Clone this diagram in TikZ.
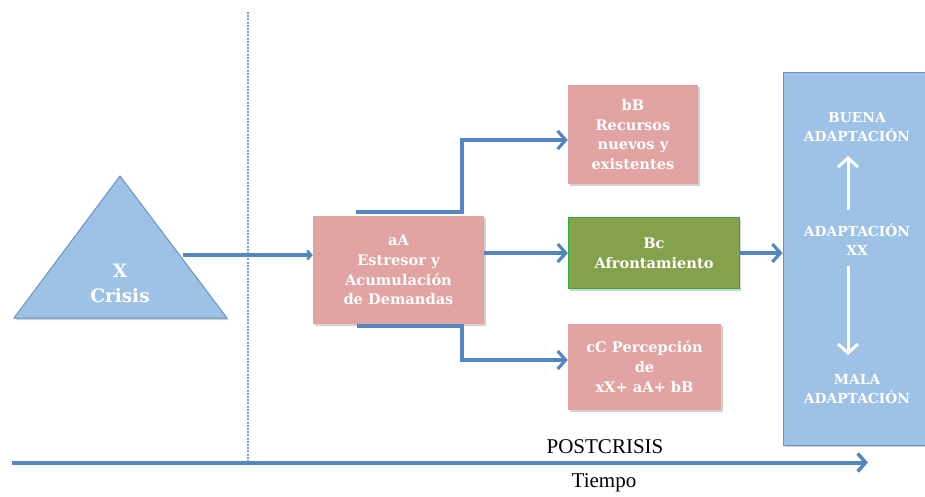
\documentclass[tikz,border=0pt]{standalone}
\usepackage{fontspec}
\setmainfont{DejaVu Serif}
\newfontfamily\axisfont{Liberation Serif}
\usetikzlibrary{arrows.meta,shadows}

\definecolor{linkblue}{RGB}{84,134,192}
\definecolor{pinkfill}{RGB}{225,164,163}
\definecolor{bluefill}{RGB}{157,194,230}
\definecolor{blueedge}{RGB}{104,146,196}
\definecolor{greenfill}{RGB}{132,162,76}
\definecolor{greenedge}{RGB}{48,172,58}
\definecolor{guide}{RGB}{120,158,210}

\tikzset{
  box/.style={rectangle, inner sep=2pt, align=center, text=white,
    font=\bfseries\fontsize{14.6}{19.8}\selectfont,
    drop shadow={shadow xshift=1.5pt, shadow yshift=-2pt, opacity=0.35}},
  pinkbox/.style={box, fill=pinkfill},
  greenbox/.style={box, fill=greenfill, draw=greenedge, line width=1.2pt},
  conn/.style={draw=linkblue, line width=3.4pt,
    -{Straight Barb[length=8pt,width=18pt,line width=3.2pt]}},
  thinconn/.style={draw=linkblue, line width=3.2pt,
    -{Straight Barb[length=4pt,width=9pt,line width=2.4pt]}},
  whitearrow/.style={draw=white, line width=3pt,
    -{Straight Barb[length=9pt,width=20pt,line width=3pt]}},
  adapttext/.style={align=center, text=white,
    font=\bfseries\fontsize{13.8}{19}\selectfont},
  axistext/.style={font=\axisfont\fontsize{21}{24}\selectfont, text=black}
}

\begin{document}
\begin{tikzpicture}[x=1pt, y=-1pt]
  \useasboundingbox (0,0) rectangle (925,496);
  \fill[white] (0,0) rectangle (925,496);

  % time axis and crisis divider
  \coordinate (tStart) at (12,462.5);
  \coordinate (tEnd) at (868,462.5);
  \coordinate (divTop) at (248,12);
  \coordinate (divBot) at (248,462);
  \draw[guide, line width=1.8pt, dash pattern=on 2pt off 1.2pt] (divTop) -- (divBot);
  \draw[draw=linkblue, line width=4pt,
    -{Straight Barb[length=8pt,width=18pt,line width=3.5pt]}] (tStart) -- (tEnd);
  \node[axistext] (post) at (605,447) {POSTCRISIS};
  \node[axistext] (tiempo) at (604,483) {Tiempo};

  % crisis triangle
  \coordinate (triTop) at (120,176);
  \coordinate (triL) at (14,318);
  \coordinate (triR) at (227,318);
  \fill[black, opacity=0.18] ([shift={(1.5,2)}]triTop) -- ([shift={(1.5,2)}]triL) -- ([shift={(1.5,2)}]triR) -- cycle;
  \filldraw[fill=bluefill, draw=blueedge, line width=1pt] (triTop) -- (triL) -- (triR) -- cycle;
  \node[align=center, text=white, font=\bfseries\fontsize{18.5}{25}\selectfont] (crisis) at (120,283) {X\\Crisis};
  \coordinate (triOut) at (183,255);

  % boxes
  \node[pinkbox, minimum width=171pt, minimum height=108pt] (aA) at (398.5,270)
    {aA\\Estresor y\\Acumulación\\de Demandas};
  \node[pinkbox, minimum width=130pt, minimum height=99pt] (bB) at (633,134.5)
    {bB\\Recursos\\nuevos y\\existentes};
  \node[greenbox, minimum width=171pt, minimum height=71pt] (Bc) at (654,253)
    {Bc\\Afrontamiento};
  \node[pinkbox, minimum width=153pt, minimum height=86pt] (cC) at (644.5,367)
    {cC Percepción\\de\\xX+ aA+ bB};

  % adaptation panel
  \node[rectangle, fill=bluefill, draw=blueedge, line width=1pt,
    minimum width=160pt, minimum height=373pt,
    drop shadow={shadow xshift=1.5pt, shadow yshift=-2pt, opacity=0.35}] (panel) at (863,258.5) {};
  \node[adapttext] (good) at (857,127) {BUENA\\ADAPTACIÓN};
  \node[adapttext] (mid) at (857,240) {ADAPTACIÓN\\XX};
  \node[adapttext] (bad) at (857,389) {MALA\\ADAPTACIÓN};
  \coordinate (upFrom) at (848,210);
  \coordinate (upTo) at (848,156);
  \coordinate (downFrom) at (848,266);
  \coordinate (downTo) at (848,355);
  \draw[whitearrow] (upFrom) -- (upTo);
  \draw[whitearrow] (downFrom) -- (downTo);

  % connectors
  \draw[thinconn] (triOut) -- (aA.west |- triOut);
  \coordinate (upStart) at (356,212);
  \coordinate (upBend) at (462,212);
  \coordinate (upTurn) at (462,140);
  \draw[conn] (upStart) -- (upBend) -- (upTurn) -- (bB.west |- upTurn);
  \coordinate (midOut) at (484,253);
  \draw[conn] (aA.east |- midOut) -- (Bc.west |- midOut);
  \coordinate (lowStart) at (357,326);
  \coordinate (lowBend) at (462,326);
  \coordinate (lowTurn) at (462,360);
  \draw[conn] (lowStart) -- (lowBend) -- (lowTurn) -- (cC.west |- lowTurn);
  \draw[conn] (Bc.east |- midOut) -- (panel.west |- midOut);
\end{tikzpicture}
\end{document}
